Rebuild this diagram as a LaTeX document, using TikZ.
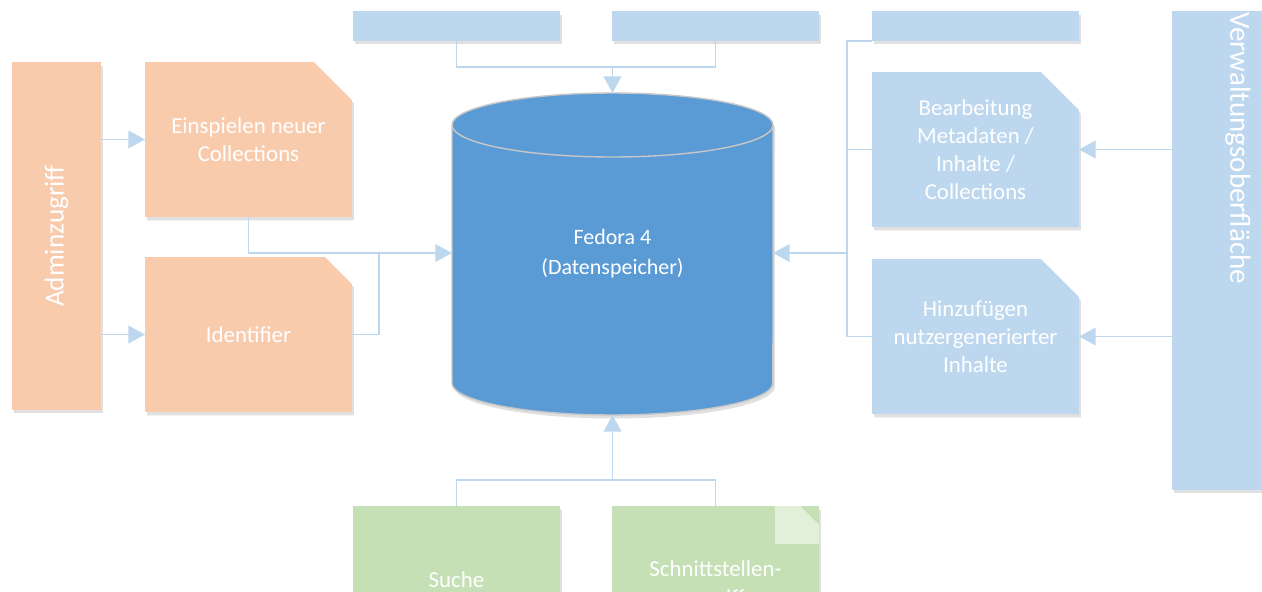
\documentclass[tikz,border=0pt]{standalone}
\usepackage{fontspec}
\setmainfont{Carlito}
\usepackage{graphicx}
\usetikzlibrary{arrows.meta, shapes.misc, shadows, positioning, calc}

\definecolor{adminfill}{HTML}{F8CBAD}
\definecolor{uifill}{HTML}{BDD7EE}
\definecolor{searchfill}{HTML}{C5E0B4}
\definecolor{foldfill}{HTML}{E2F0D9}
\definecolor{dbfill}{HTML}{5B9BD5}
\definecolor{linkcol}{HTML}{BDD7EE}

\begin{document}
\begin{tikzpicture}[x=0.02cm, y=-0.02cm, line join=round,
    softshadow/.style={drop shadow={shadow xshift=0.04cm, shadow yshift=-0.07cm, opacity=0.12, fill=black}},
    label text/.style={inner sep=0pt, outer sep=0pt, text=white, align=center,
      font=\fontsize{13}{16}\selectfont},
    box/.style={rectangle, label text, softshadow},
    note/.style={box, chamfered rectangle, chamfered rectangle corners=north east,
      chamfered rectangle xsep=0.38cm, chamfered rectangle ysep=0.38cm,
      minimum width=4.14cm, minimum height=3.1cm},
    bar/.style={box, minimum width=4.14cm, minimum height=0.6cm, fill=uifill},
    link/.style={draw=linkcol, line width=1.1pt},
    flow/.style={link, -{Triangle[length=9.5pt, width=10pt]}}]

  % Define parameters
  \def\rx{3.21cm} % Half-width of the cylinder
  \def\ry{0.64cm} % Half-height of the cylinder caps

  \useasboundingbox (0,0) rectangle (1262,592);
  \clip (0,0) rectangle (1262,592);

  % Data store (cylinder drawn first, text node on top)
  \fill[dbfill, softshadow] (452,125) -- (452,383)
    arc[start angle=180, end angle=360, x radius=\rx, y radius=\ry]
    -- (773,125)
    arc[start angle=0, end angle=180, x radius=\rx, y radius=\ry] -- cycle;
  \draw[black!22, line width=0.8pt] (452,125) -- (452,383)
    arc[start angle=180, end angle=360, x radius=\rx, y radius=\ry] -- (773,125);
  \draw[black!22, line width=0.8pt] (612.5,125) ellipse[x radius=\rx, y radius=\ry];
  \node[label text, minimum width=6.42cm, minimum height=6.44cm,
    font=\fontsize{12.5}{17}\selectfont] (db) at (612.5,254) {Fedora 4\\(Datenspeicher)};

  % Admin side
  \node[box, fill=adminfill, minimum width=1.78cm, minimum height=6.96cm,
    font=\fontsize{15.5}{18}\selectfont] (admin) at (56.5,236) {\rotatebox{90}{Adminzugriff}};
  \node[note, fill=adminfill] (ein) at (248.5,139.5) {Einspielen neuer\\Collections};
  \node[note, fill=adminfill] (ident) at (248.5,334.5) {Identifier};

  % Bars at the top
  \node[bar] (topa) at (456.5,26) {};
  \node[bar] (topb) at (715.5,26) {};
  \node[bar] (topc) at (975.5,26) {};

  % Management side
  \node[note, fill=uifill] (bearb) at (975.5,149.5) {Bearbeitung\\Metadaten /\\Inhalte /\\Collections};
  \node[note, fill=uifill] (hinz) at (975.5,336.5) {Hinzufügen\\nutzergenerierter\\Inhalte};
  \node[box, fill=uifill, minimum width=1.8cm, minimum height=9.58cm] (vw) at (1217,250.5) {};
  \node[label text, font=\fontsize{16.5}{19}\selectfont] (vwtext) at (1238,148)
    {\rotatebox{-90}{Verwaltungsoberfläche}};

  % Search side
  \node[note, fill=searchfill] (suche) at (456.5,583.5) {};
  \node[label text] (suchetext) at (456.5,580) {Suche};
  \node[note, fill=searchfill] (schnitt) at (715.5,583.5) {};
  \fill[foldfill] (775,506) -- (800,506) -- (819,525) -- (819,544) -- (775,544) -- cycle;
  \node[label text] (schnitttext) at (715.5,585) {Schnittstellen-\\zugriff};

  % Join points of the connectors
  \coordinate (ljoin) at (379,253);
  \coordinate (tjoin) at (612.5,67);
  \coordinate (bjoin) at (612.5,480);
  \coordinate (rjoin) at (847,253);

  % Connectors
  \draw[flow] (admin.east |- ein.west) -- (ein.west);
  \draw[flow] (admin.east |- ident.east) -- (ident.west);
  \draw[flow] (ein.south) |- (db.west |- ljoin);
  \draw[link] (ident.east) -| (ljoin);

  \draw[link] (topa.south) |- (tjoin) -| (topb.south);
  \draw[flow] (tjoin) -- (db.north);

  \draw[link] (suche.north) |- (bjoin) -| (schnitt.north);
  \draw[flow] (bjoin) -- (db.south);

  \draw[link] (topc.south west) -| (rjoin) |- (hinz.west);
  \draw[link] (bearb.west) -- (bearb.west -| rjoin);
  \draw[flow] (rjoin) -- (db.east |- rjoin);

  \draw[flow] (vw.west |- bearb.east) -- (bearb.east);
  \draw[flow] (vw.west |- hinz.east) -- (hinz.east);

\end{tikzpicture}
\end{document}
